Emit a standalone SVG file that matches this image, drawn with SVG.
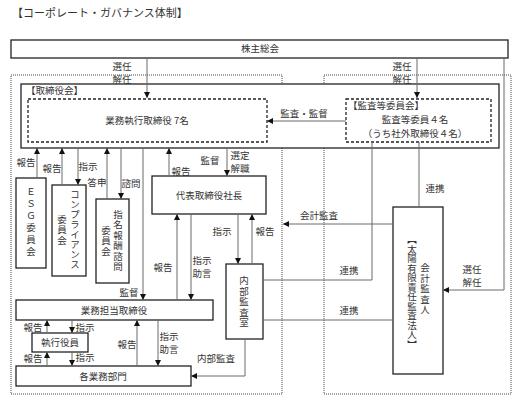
<svg xmlns="http://www.w3.org/2000/svg" width="525" height="404" viewBox="0 0 525 404">
<style>
text{font-family:"Noto Sans CJK JP","Noto Sans CJK SC",sans-serif;font-size:9.5px;fill:#333}
.c{text-anchor:middle}
.v{writing-mode:vertical-rl;text-anchor:middle;letter-spacing:1px}
.box{fill:#fff;stroke:#222;stroke-width:1.3}
.dash{fill:#fff;stroke:#222;stroke-width:1.3;stroke-dasharray:3 2}
.dot{fill:none;stroke:#333;stroke-width:0.9;stroke-dasharray:1 1}
.ln{fill:none;stroke:#6a6a6a;stroke-width:1}
.ar{marker-end:url(#ah)}
</style>
<defs>
<marker id="ah" viewBox="0 0 6 6" refX="6" refY="3" markerWidth="6" markerHeight="6" orient="auto" markerUnits="userSpaceOnUse"><path d="M0,0 L6,3 L0,6 z" fill="#111"/></marker>
</defs>
<rect width="525" height="404" fill="#fff"/>
<text x="12" y="17" style="font-size:11px">【コーポレート・ガバナンス体制】</text>

<g id="dotted-areas">
<rect class="dot" x="11" y="75" width="271" height="319"/>
<rect class="dot" x="324" y="75" width="187" height="319"/>
</g>

<g id="shareholders">
<rect class="box" x="11" y="40" width="497" height="18"/>
<text class="c" x="260" y="52">株主総会</text>
</g>

<g id="board">
<rect class="box" x="21" y="84" width="478" height="64"/>
<text x="26" y="94">【取締役会】</text>
</g>

<g id="exec-directors">
<rect class="dash" x="28" y="99" width="239" height="43"/>
<text class="c" x="147" y="124">業務執行取締役 7名</text>
</g>

<g id="audit-committee">
<rect class="dash" x="346" y="99" width="145" height="43"/>
<text x="348" y="109">【監査等委員会】</text>
<text class="c" x="415" y="123">監査等委員４名</text>
<text class="c" x="415" y="137">（うち社外取締役４名）</text>
</g>

<g id="esg">
<rect class="box" x="16" y="178" width="30" height="90"/>
<text class="v" x="31" y="223" style="letter-spacing:2.5px">ＥＳＧ委員会</text>
</g>

<g id="compliance">
<rect class="box" x="52" y="185" width="34" height="91"/>
<text class="v" x="75" y="230" style="letter-spacing:0.5px">コンプライアンス</text>
<text class="v" x="62" y="230">委員会</text>
</g>

<g id="nomination">
<rect class="box" x="96" y="199" width="33" height="84"/>
<text class="v" x="118" y="241">指名報酬諮問</text>
<text class="v" x="106" y="241">委員会</text>
</g>

<g id="ceo">
<rect class="box" x="152" y="176" width="114" height="38"/>
<text class="c" x="209" y="199">代表取締役社長</text>
</g>

<g id="internal-audit">
<rect class="box" x="226" y="264" width="37" height="75"/>
<text class="v" x="244" y="302">内部監査室</text>
</g>

<g id="external-auditor">
<rect class="box" x="393" y="207" width="50" height="167"/>
<text class="v" x="425" y="289">会計監査人</text>
<text class="v" x="412" y="292" style="letter-spacing:0">【太陽有限責任監査法人】</text>
</g>

<g id="business-directors">
<rect class="box" x="16" y="300" width="197" height="20"/>
<text class="c" x="114" y="314">業務担当取締役</text>
</g>

<g id="executive-officers">
<rect class="box" x="32" y="333" width="56" height="19"/>
<text class="c" x="60" y="346">執行役員</text>
</g>

<g id="departments">
<rect class="box" x="16" y="366" width="175" height="20"/>
<text class="c" x="103" y="380">各業務部門</text>
</g>

<g id="connectors">
<path class="ln ar" d="M147,58 V98"/>
<path class="ln ar" d="M417,58 V98"/>
<path class="ln ar" d="M504,58 V290 H443"/>
<path class="ln ar" d="M346,121 H267"/>
<path class="ln ar" d="M37,178 V148"/>
<path class="ln ar" d="M62,185 V148"/>
<path class="ln ar" d="M78,148 V185"/>
<path class="ln ar" d="M107,199 V148"/>
<path class="ln ar" d="M121,148 V199"/>
<path class="ln ar" d="M143,148 V300"/>
<path class="ln ar" d="M169,176 V148"/>
<path class="ln ar" d="M227,148 V176"/>
<path class="ln ar" d="M177,300 V214"/>
<path class="ln ar" d="M191,214 V300"/>
<path class="ln ar" d="M238,214 V264"/>
<path class="ln ar" d="M252,264 V214"/>
<path class="ln" d="M263,280 H372 V142"/>
<path class="ln" d="M419,142 V207"/>
<path class="ln" d="M263,320 H393"/>
<path class="ln ar" d="M393,224 H283"/>
<path class="ln ar" d="M245,339 V376 H191"/>
<path class="ln ar" d="M47,333 V320"/>
<path class="ln ar" d="M72,320 V333"/>
<path class="ln ar" d="M47,366 V352"/>
<path class="ln ar" d="M72,352 V366"/>
<path class="ln ar" d="M137,366 V320"/>
<path class="ln ar" d="M158,320 V366"/>
</g>

<g id="labels">
<text class="c" x="122" y="70">選任</text>
<text class="c" x="122" y="83">解任</text>
<text class="c" x="402" y="70">選任</text>
<text class="c" x="402" y="83">解任</text>
<text class="c" x="304" y="117">監査・監督</text>
<text class="c" x="26" y="166">報告</text>
<text class="c" x="52" y="172">報告</text>
<text class="c" x="88" y="170">指示</text>
<text class="c" x="97" y="186">答申</text>
<text class="c" x="131" y="187">諮問</text>
<text class="c" x="181" y="175">報告</text>
<text class="c" x="210" y="164">監督</text>
<text class="c" x="240" y="159">選定</text>
<text class="c" x="240" y="172">解職</text>
<text class="c" x="129" y="296">監督</text>
<text class="c" x="163" y="271">報告</text>
<text class="c" x="202" y="264">指示</text>
<text class="c" x="202" y="277">助言</text>
<text class="c" x="222" y="235">指示</text>
<text class="c" x="265" y="235">報告</text>
<text class="c" x="319" y="219">会計監査</text>
<text class="c" x="435" y="192">連携</text>
<text class="c" x="349" y="274">連携</text>
<text class="c" x="349" y="314">連携</text>
<text class="c" x="472" y="273">選任</text>
<text class="c" x="472" y="286">解任</text>
<text class="c" x="33" y="331">報告</text>
<text class="c" x="85" y="331">指示</text>
<text class="c" x="33" y="362">報告</text>
<text class="c" x="85" y="361">指示</text>
<text class="c" x="127" y="348">報告</text>
<text class="c" x="169" y="340">指示</text>
<text class="c" x="169" y="353">助言</text>
<text class="c" x="216" y="362">内部監査</text>
</g>
</svg>
